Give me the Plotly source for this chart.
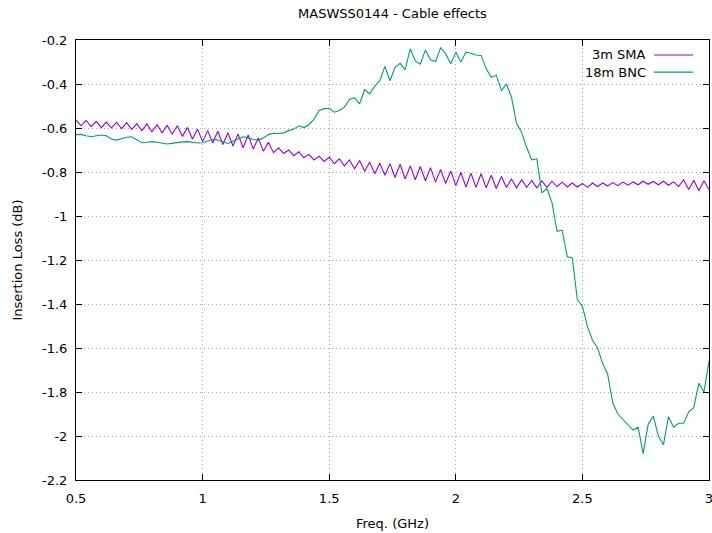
import plotly.graph_objects as go

freq_start = 0.5
freq_step = 0.02

sma_3m = [
    -0.563, -0.590, -0.566, -0.594, -0.570, -0.598, -0.573, -0.600, -0.574, -0.603,
    -0.576, -0.606, -0.580, -0.612, -0.582, -0.617, -0.585, -0.622, -0.588, -0.627,
    -0.590, -0.638, -0.598, -0.650, -0.605, -0.662, -0.612, -0.668, -0.615, -0.675,
    -0.622, -0.682, -0.628, -0.690, -0.632, -0.695, -0.645, -0.706, -0.665, -0.712,
    -0.690, -0.716, -0.700, -0.726, -0.708, -0.735, -0.720, -0.745, -0.728, -0.752,
    -0.733, -0.762, -0.740, -0.772, -0.745, -0.785, -0.748, -0.797, -0.755, -0.808,
    -0.760, -0.815, -0.762, -0.825, -0.765, -0.832, -0.772, -0.835, -0.775, -0.840,
    -0.780, -0.846, -0.788, -0.852, -0.795, -0.862, -0.802, -0.868, -0.805, -0.870,
    -0.808, -0.872, -0.815, -0.875, -0.820, -0.870, -0.832, -0.872, -0.835, -0.870,
    -0.838, -0.872, -0.840, -0.870, -0.842, -0.866, -0.846, -0.868, -0.850, -0.868,
    -0.852, -0.870, -0.850, -0.866, -0.850, -0.864, -0.848, -0.862, -0.846, -0.860,
    -0.845, -0.858, -0.842, -0.856, -0.843, -0.858, -0.842, -0.860, -0.845, -0.866,
    -0.835, -0.880, -0.838, -0.885, -0.840, -0.880,
]

bnc_18m = [
    -0.630, -0.629, -0.635, -0.640, -0.635, -0.632, -0.635, -0.650, -0.655, -0.648,
    -0.642, -0.640, -0.655, -0.667, -0.665, -0.662, -0.665, -0.670, -0.673, -0.670,
    -0.665, -0.663, -0.662, -0.665, -0.668, -0.667, -0.660, -0.652, -0.655, -0.662,
    -0.670, -0.660, -0.650, -0.640, -0.645, -0.652, -0.655, -0.645, -0.630, -0.624,
    -0.625, -0.622, -0.612, -0.605, -0.590, -0.598, -0.585, -0.560, -0.520, -0.512,
    -0.510, -0.528, -0.520, -0.505, -0.470, -0.462, -0.490, -0.425, -0.445, -0.410,
    -0.385, -0.320, -0.385, -0.325, -0.306, -0.335, -0.240, -0.295, -0.310, -0.245,
    -0.290, -0.298, -0.235, -0.262, -0.308, -0.255, -0.300, -0.255, -0.260, -0.268,
    -0.270, -0.330, -0.370, -0.360, -0.430, -0.400, -0.460, -0.580, -0.620, -0.690,
    -0.745, -0.740, -0.895, -0.875, -0.940, -1.070, -1.064, -1.185, -1.190, -1.380,
    -1.410, -1.503, -1.565, -1.600, -1.670, -1.720, -1.850, -1.900, -1.925, -1.950,
    -1.973, -1.960, -2.080, -1.945, -1.910, -2.000, -2.040, -1.912, -1.960, -1.942,
    -1.942, -1.890, -1.870, -1.760, -1.800, -1.660,
]

freqs = [round(freq_start + freq_step * i, 4) for i in range(len(sma_3m))]

x_ticks = [0.5, 1, 1.5, 2, 2.5, 3]
x_tick_text = ["0.5", "1", "1.5", "2", "2.5", "3"]
y_ticks = [-2.2, -2.0, -1.8, -1.6, -1.4, -1.2, -1.0, -0.8, -0.6, -0.4, -0.2]
y_tick_text = ["-2.2", "-2", "-1.8", "-1.6", "-1.4", "-1.2", "-1", "-0.8", "-0.6", "-0.4", "-0.2"]

series_names = ["3m SMA", "18m BNC"]
series_colors = ["#9400d3", "#009e73"]

FONT = "DejaVu Sans"

fig = go.Figure()
for name, vals, col in zip(series_names, [sma_3m, bnc_18m], series_colors):
    fig.add_trace(go.Scatter(x=freqs, y=vals, mode="lines", name=name,
                             line=dict(color=col, width=1.1), showlegend=False))

axis_common = dict(
    showline=True, linecolor="black", linewidth=1, mirror="ticks",
    ticks="inside", ticklen=6, tickcolor="black", tickwidth=1,
    showgrid=True, gridcolor="#a8a8a8", griddash="1px,3px", gridwidth=1,
    zeroline=False, tickfont=dict(family=FONT, size=13, color="black"),
    ticklabeloverflow="allow", automargin=False,
)

fig.update_xaxes(range=[0.5, 3], tickvals=x_ticks, ticktext=x_tick_text,
                 title=dict(text="Freq. (GHz)", font=dict(family=FONT, size=13, color="black"), standoff=14),
                 ticklabelstandoff=6, **axis_common)
fig.update_yaxes(range=[-2.2, -0.2], tickvals=y_ticks, ticktext=y_tick_text,
                 title=dict(text="Insertion Loss (dB)", font=dict(family=FONT, size=13, color="black"), standoff=16),
                 ticklabelstandoff=5, **axis_common)

# legend (text right-aligned, sample line on the right, as in gnuplot)
legend_rows = [0.966, 0.927]
for name, col, yy in zip(series_names, series_colors, legend_rows):
    fig.add_annotation(xref="x domain", yref="y domain", x=0.903, y=yy, text=name,
                       showarrow=False, xanchor="right", yanchor="middle",
                       font=dict(family=FONT, size=13, color="black"))
    fig.add_shape(type="line", xref="x domain", yref="y domain", x0=0.913, x1=0.975,
                  y0=yy, y1=yy, line=dict(color=col, width=1.1))

fig.update_layout(
    width=712, height=533,
    margin=dict(l=76, r=3, t=40, b=53),
    paper_bgcolor="white", plot_bgcolor="white",
    title=dict(text="MASWSS0144 - Cable effects", xref="paper", x=0.5, xanchor="center",
               y=0.975, yanchor="middle",
               font=dict(family=FONT, size=13, color="black")),
)

fig.write_html("out.html")
